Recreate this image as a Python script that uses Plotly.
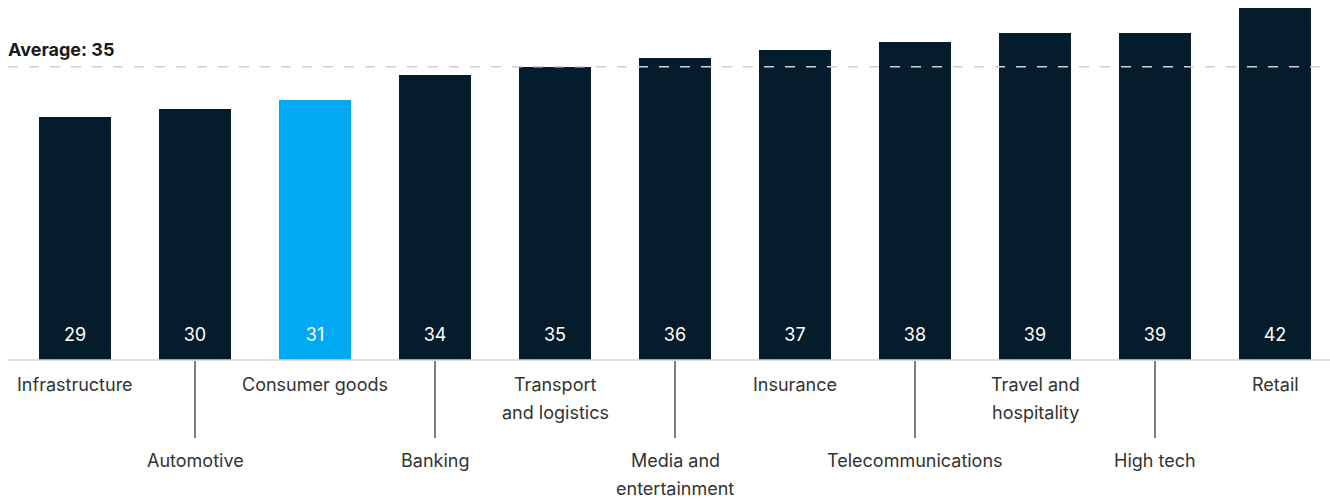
import plotly.graph_objects as go

categories = ["Infrastructure", "Automotive", "Consumer goods", "Banking",
              "Transport and logistics", "Media and entertainment", "Insurance",
              "Telecommunications", "Travel and hospitality", "High tech", "Retail"]
label_lines = [["Infrastructure"], ["Automotive"], ["Consumer goods"], ["Banking"],
               ["Transport", "and logistics"], ["Media and", "entertainment"], ["Insurance"],
               ["Telecommunications"], ["Travel and", "hospitality"], ["High tech"], ["Retail"]]
values = [29, 30, 31, 34, 35, 36, 37, 38, 39, 39, 42]
highlight = "Consumer goods"
average = 35

NAVY = "#051C2C"
BLUE = "#00A9F4"
FONT = "Inter"

W, H = 1330, 501
plot_h = 360
px_per_unit = 352 / 42
yr = plot_h / px_per_unit

colors = [BLUE if c == highlight else NAVY for c in categories]
xs = list(range(len(categories)))

fig = go.Figure()
fig.add_trace(go.Bar(x=xs, y=values, marker=dict(color=colors, line=dict(width=0)),
                     width=0.6, hoverinfo="skip", showlegend=False))
fig.add_trace(go.Scatter(x=xs, y=[24 / px_per_unit] * len(xs), mode="text",
                         text=[str(v) for v in values],
                         textfont=dict(family=FONT, size=18, color="white"),
                         textposition="middle center", hoverinfo="skip", showlegend=False))

shapes = []
# baseline
shapes.append(dict(type="line", xref="paper", yref="paper", x0=8 / W, x1=1, y0=0, y1=0,
                   line=dict(color="#d4d4d4", width=1.5), layer="above"))
# average line
shapes.append(dict(type="line", xref="paper", yref="y", x0=8 / W, x1=1, y0=average, y1=average,
                   line=dict(color="#d0d0d0", width=1.5, dash="10px,11px"), layer="above"))

annotations = [dict(text="<b>Average: %d</b>" % average, xref="paper", yref="y", x=8 / W, y=average,
                    xanchor="left", yanchor="bottom", yshift=5, xshift=-2, showarrow=False,
                    font=dict(family=FONT, size=18, color="#1a1a1a"))]

for i, lines in enumerate(label_lines):
    lower = i % 2 == 1
    base = -100 if lower else -24
    for k, ln in enumerate(lines):
        annotations.append(dict(text=ln, x=i, y=0, xref="x", yref="y", xanchor="center",
                                yanchor="middle", yshift=base - 28 * k, showarrow=False,
                                font=dict(family=FONT, size=18, color="#333333")))
    if lower:
        shapes.append(dict(type="line", xref="x", yref="paper", x0=i, x1=i,
                           y0=-1 / plot_h, y1=-78 / plot_h,
                           line=dict(color="#555555", width=1.5)))

fig.update_layout(
    width=W, height=H, margin=dict(l=0, r=0, t=0, b=H - plot_h),
    paper_bgcolor="white", plot_bgcolor="white",
    xaxis=dict(range=[-0.625, W / 120 - 0.625], visible=False, fixedrange=True),
    yaxis=dict(range=[0, yr], visible=False, fixedrange=True),
    shapes=shapes, annotations=annotations, bargap=0,
)
fig.write_html("out.html")
